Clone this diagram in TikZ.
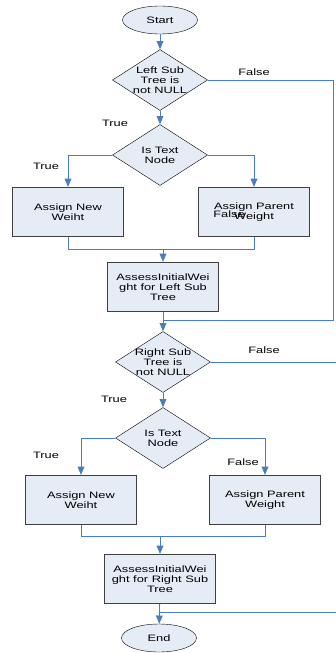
\documentclass[tikz,border=0pt]{standalone}
\usepackage{fontspec}
\setmainfont{Liberation Sans}[FakeStretch=1.38]
\usetikzlibrary{positioning}
\usetikzlibrary{arrows}
\usetikzlibrary{shapes}

\definecolor{boxfill}{HTML}{E6ECF6}
\definecolor{linkblue}{HTML}{4A7EBB}
\definecolor{boxline}{HTML}{404040}

\begin{document}
\begin{tikzpicture}[x=1pt,y=-1pt,
    font=\fontsize{9.3}{10}\selectfont,
    term/.style={ellipse, draw, fill=boxfill, minimum width=75pt, minimum height=28pt, inner sep=0pt},
    test/.style={diamond, draw, fill=boxfill, aspect=1.56, minimum width=95pt, minimum height=61pt, inner sep=-4pt, align=center},
    work/.style={rectangle, draw=boxline, line width=1.2pt, fill=boxfill, minimum width=111pt, minimum height=49pt, align=center},
    link/.style={draw=linkblue, line width=0.9pt},
    flow/.style={link, ->, >=triangle 45, shorten >=0pt},
    tag/.style={inner sep=0pt}]
    \useasboundingbox (0,0) rectangle (336,653);

    % left sub tree
    \node[term] (start) at (160,20) {Start};
    \node[test] (lsub) at (160,80) {Left Sub\\Tree is\\not NULL};
    \node[test] (ltext) at (160,155) {Is Text\\Node};
    \node[work] (lnew) at (68,212) {Assign New\\Weiht};
    \node[work] (lpar) at (254,212) {Assign Parent\\Weight};
    \node[work] (lassess) at (163,287) {AssessInitialWei\\ght for Left Sub\\Tree};

    % right sub tree
    \node[test] (rsub) at (163,362) {Right Sub\\Tree is\\not NULL};
    \node[test] (rtext) at (163,438) {Is Text\\Node};
    \node[work] (rnew) at (81,500) {Assign New\\Weiht};
    \node[work] (rpar) at (265,500) {Assign Parent\\Weight};
    \node[work] (rassess) at (160,579) {AssessInitialWei\\ght for Right Sub\\Tree};
    \node[term] (finish) at (159,638) {End};

    \coordinate (lmerge) at (163,249);
    \coordinate (lfar) at (333,320);
    \coordinate (ljoin) at (163,320);
    \coordinate (rmerge) at (160,536);
    \coordinate (rfar) at (345,612);
    \coordinate (rjoin) at (160,612);

    \draw[flow] (start) -- (lsub);
    \draw[flow] (lsub) -- (ltext);
    \draw[flow] (ltext.west) -| (lnew.north);
    \draw[flow] (ltext.east) -| (lpar.north);
    \draw[link] (lnew.south) |- (lmerge);
    \draw[link] (lpar.south) |- (lmerge);
    \draw[flow] (lmerge) -- (lassess);
    \draw[link] (lsub.east) -| (lfar) -- (ljoin);
    \draw[flow] (lassess) -- (rsub);

    \draw[flow] (rsub) -- (rtext);
    \draw[flow] (rtext.west) -| (rnew.north);
    \draw[flow] (rtext.east) -| (rpar.north);
    \draw[link] (rnew.south) |- (rmerge);
    \draw[link] (rpar.south) |- (rmerge);
    \draw[flow] (rmerge) -- (rassess);
    \draw[link] (rsub.east) -| (rfar) -- (rjoin);
    \draw[flow] (rassess) -- (finish);

    % branch labels
    \node[tag] (f1) at (254,72) {False};
    \node[tag] (t1) at (115,123) {True};
    \node[tag] (t2) at (46,166) {True};
    \node[tag] (f2) at (229,214) {False};
    \node[tag] (f3) at (264,350) {False};
    \node[tag] (t3) at (114,399) {True};
    \node[tag] (t4) at (46,455) {True};
    \node[tag] (f4) at (243,462) {False};
\end{tikzpicture}
\end{document}
